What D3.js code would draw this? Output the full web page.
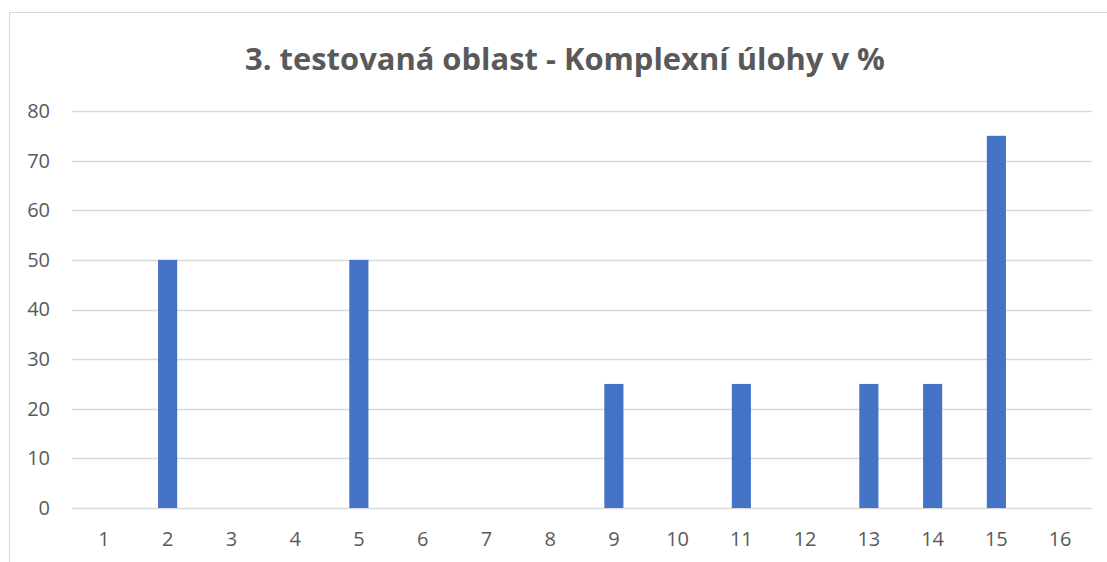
<!DOCTYPE html>
<html>
<head>
<meta charset="utf-8">
<script src="https://cdn.jsdelivr.net/npm/d3@7"></script>
<style>
  body { margin: 0; background: #fff; }
  svg { display: block; }
</style>
</head>
<body>
<svg id="chart"></svg>
<script>
// chart data
const categories = ['1', '2', '3', '4', '5', '6', '7', '8', '9', '10', '11', '12', '13', '14', '15', '16'];
const values = [0, 50, 0, 0, 50, 0, 0, 0, 25, 0, 25, 0, 25, 25, 75, 0];
const yTicks = [0, 10, 20, 30, 40, 50, 60, 70, 80];
const title = '3. testovaná oblast - Komplexní úlohy v %';

const width = 1107;
const height = 562;
const margin = { top: 111, right: 15, bottom: 54, left: 72 };
const innerWidth = width - margin.left - margin.right;
const innerHeight = height - margin.top - margin.bottom;
const fontFamily = '"Open Sans", "Noto Sans", sans-serif';

const svg = d3.select('#chart').attr('width', width).attr('height', height);

// chart border (runs off the right and bottom edges like the original)
svg.append('path')
  .attr('d', `M${width},12.5 H9.5 V${height}`)
  .attr('fill', 'none')
  .attr('stroke', '#d9d9d9')
  .attr('stroke-width', 1);

const g = svg.append('g').attr('transform', `translate(${margin.left}, ${margin.top})`);

const xScale = d3.scaleBand()
  .domain(categories)
  .range([0, innerWidth]);

const yScale = d3.scaleLinear()
  .domain([0, 80])
  .range([innerHeight, 0]);

// gridlines
g.selectAll('.grid')
  .data(yTicks)
  .enter()
  .append('line')
  .attr('x1', 0).attr('x2', innerWidth)
  .attr('y1', (d) => Math.round(yScale(d)) + 0.5)
  .attr('y2', (d) => Math.round(yScale(d)) + 0.5)
  .attr('stroke', '#d9d9d9')
  .attr('stroke-width', 1.3);

// bars
const barWidth = xScale.bandwidth() * 0.3;
g.selectAll('.bar')
  .data(values)
  .enter()
  .append('rect')
  .attr('class', 'bar')
  .attr('x', (d, i) => xScale(categories[i]) + (xScale.bandwidth() - barWidth) / 2)
  .attr('y', (d) => yScale(d))
  .attr('width', barWidth)
  .attr('height', (d) => innerHeight - yScale(d))
  .attr('fill', '#4472c4');

// y axis
const yAxis = g.append('g')
  .call(d3.axisLeft(yScale).tickValues(yTicks).tickSize(0).tickPadding(22))
  .attr('font-size', 20)
  .attr('font-family', fontFamily);
yAxis.select('.domain').remove();
yAxis.selectAll('text').attr('fill', '#595959');

// x axis
const xAxis = g.append('g')
  .attr('transform', `translate(0, ${innerHeight})`)
  .call(d3.axisBottom(xScale).tickSize(0).tickPadding(24))
  .attr('font-size', 20)
  .attr('font-family', fontFamily);
xAxis.select('.domain').remove();
xAxis.selectAll('text').attr('fill', '#595959');

// title
const titleText = svg.append('text')
  .attr('x', 565)
  .attr('y', 70)
  .attr('text-anchor', 'middle')
  .attr('fill', '#595959')
  .attr('font-family', fontFamily)
  .attr('font-weight', 'bold')
  .attr('font-size', 28)
  .text(title);

// fit title to the original width
const tw = titleText.node().getComputedTextLength();
titleText.attr('font-size', (28 * 640 / tw).toFixed(1));
</script>
</body>
</html>
